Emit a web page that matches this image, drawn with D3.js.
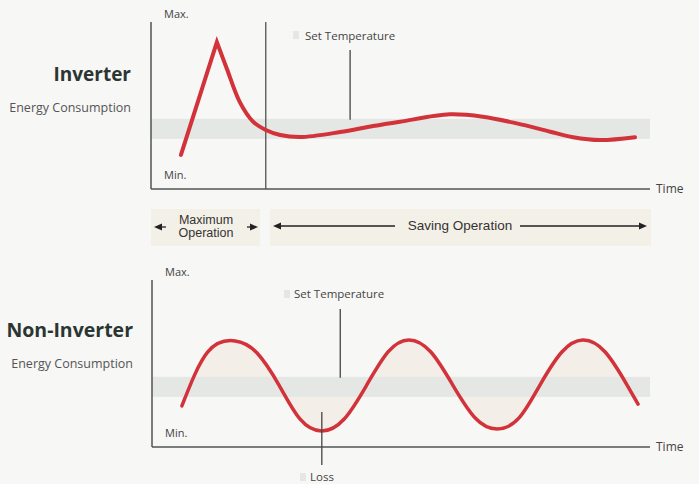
<!DOCTYPE html>
<html>
<head>
<meta charset="utf-8">
<script src="https://cdn.jsdelivr.net/npm/d3@7"></script>
<style>
  body { margin: 0; background: #f7f7f5; }
  svg { display: block; }
</style>
</head>
<body>
<div id="chart"></div>
<script>
// time (0-100) vs energy (0 = Min., 100 = Max.)
const inverterTime   = [6.0, 13.2, 15.2, 17.8, 20.4, 23.0, 25.9, 29.9, 37.9, 44.5, 49.9, 59.9, 66.5, 73.3, 80.0, 84.6, 90.0, 97.0];
const inverterEnergy = [20.4, 88.0, 72.0, 52.0, 40.5, 35.3, 32.3, 31.1, 34.1, 37.7, 40.3, 44.7, 43.3, 39.3, 34.3, 31.0, 29.3, 31.0];

const nonInvTime   = [6.0, 11.2, 16.7, 21.1, 25.5, 29.7, 34.1, 38.6, 43.0, 47.4, 51.6, 56.0, 60.4, 64.9, 69.3, 73.7, 77.9, 82.3, 86.5, 91.0, 95.4, 97.6];
const nonInvEnergy = [24.6, 56.9, 63.5, 56.3, 37.1, 16.8, 9.6, 16.8, 36.5, 56.9, 64.1, 56.9, 37.1, 17.4, 10.8, 17.4, 37.1, 56.9, 64.1, 56.9, 37.1, 25.7];

const setTempBand = [30, 42];       // energy range of set temperature band
const setTempMid = 36;
const maxOpEnd = 23.0;              // end of maximum operation phase (time)
const topSetTempMark = 39.9;        // time where the label line points
const bottomSetTempMark = 37.8;
const lossMark = 34.1;

const W = 699, H = 484;
const svg = d3.select("#chart").append("svg")
    .attr("width", W).attr("height", H);

svg.append("rect").attr("width", W).attr("height", H).attr("fill", "#f7f7f5");

const red = "#d2323a";
const axisCol = "#505552";
const bandCol = "#e4e7e4";
const font = "'Open Sans', 'Noto Sans', sans-serif";

function panel(opts) {
    const x = d3.scaleLinear().domain([0, 100]).range([opts.left, 650]);
    const y = d3.scaleLinear().domain([0, 100]).range([opts.bottom, opts.top]);
    const g = svg.append("g");

    // set temperature band
    g.append("rect")
        .attr("class", "band")
        .attr("x", x(0)).attr("width", x(100) - x(0))
        .attr("y", y(setTempBand[1])).attr("height", y(setTempBand[0]) - y(setTempBand[1]))
        .attr("fill", bandCol);

    // axes
    g.append("line")
        .attr("x1", x(0)).attr("x2", x(0))
        .attr("y1", opts.top).attr("y2", opts.bottom)
        .attr("stroke", axisCol).attr("stroke-width", 1.5);
    g.append("line")
        .attr("x1", x(0)).attr("x2", x(100))
        .attr("y1", opts.bottom).attr("y2", opts.bottom)
        .attr("stroke", axisCol).attr("stroke-width", 1.5);

    g.append("text").attr("x", x(0) + 13).attr("y", opts.top - 4)
        .text("Max.").attr("font-family", font).attr("font-size", 11).attr("fill", "#444");
    g.append("text").attr("x", x(0) + 13).attr("y", opts.bottom - 10)
        .text("Min.").attr("font-family", font).attr("font-size", 11).attr("fill", "#444");
    g.append("text").attr("x", x(100) + 6).attr("y", opts.bottom + 4)
        .text("Time").attr("font-family", font).attr("font-size", 12).attr("fill", "#444");

    // titles on the left
    g.append("text").attr("x", opts.titleX).attr("y", opts.titleY)
        .attr("text-anchor", "end").text(opts.title)
        .attr("font-family", font).attr("font-size", opts.titleSize).attr("font-weight", "bold")
        .attr("fill", "#2b3531");
    g.append("text").attr("x", opts.titleX).attr("y", opts.titleY + 31)
        .attr("text-anchor", "end").text("Energy Consumption")
        .attr("font-family", font).attr("font-size", 12.5).attr("fill", "#555");

    return { x, y, g };
}

// ---------- Inverter ----------
const topP = panel({ left: 151, top: 22, bottom: 189, title: "Inverter", titleX: 131, titleY: 81, titleSize: 19 });

topP.g.append("line")
    .attr("x1", topP.x(maxOpEnd)).attr("x2", topP.x(maxOpEnd))
    .attr("y1", 22).attr("y2", 189)
    .attr("stroke", axisCol).attr("stroke-width", 1.3);

const invPts = inverterTime.map((t, i) => [topP.x(t), topP.y(inverterEnergy[i])]);
const rise = d3.line().curve(d3.curveLinear)(invPts.slice(0, 2));
const decay = d3.line().curve(d3.curveCatmullRom.alpha(0.5))(invPts.slice(1));
topP.g.append("path")
    .attr("d", rise + decay.replace(/^M/, "L"))
    .attr("fill", "none").attr("stroke", red).attr("stroke-width", 4)
    .attr("stroke-linejoin", "miter").attr("stroke-linecap", "round");

// set temperature label
topP.g.append("rect").attr("x", 293).attr("y", 31).attr("width", 6).attr("height", 8).attr("fill", bandCol);
topP.g.append("text").attr("x", 305).attr("y", 40).text("Set Temperature")
    .attr("font-family", font).attr("font-size", 11.5).attr("fill", "#444");
topP.g.append("line")
    .attr("x1", topP.x(topSetTempMark)).attr("x2", topP.x(topSetTempMark))
    .attr("y1", 50).attr("y2", topP.y(setTempBand[1]) + 1)
    .attr("stroke", "#444").attr("stroke-width", 1.3);

// ---------- operation phases ----------
const opFont = "'Liberation Sans', Arial, sans-serif";
const ph = svg.append("g");
ph.append("rect").attr("x", 151).attr("y", 209).attr("width", 109).attr("height", 37).attr("fill", "#f3f0e7");
ph.append("rect").attr("x", 270).attr("y", 209).attr("width", 381).attr("height", 37).attr("fill", "#f3f0e7");

function arrow(x1, x2, y) {
    const dir = Math.sign(x2 - x1);
    ph.append("line").attr("x1", x1).attr("x2", x2 - dir * 6).attr("y1", y).attr("y2", y)
        .attr("stroke", "#222").attr("stroke-width", 1.3);
    ph.append("path")
        .attr("d", `M${x2},${y} L${x2 - dir * 8},${y - 3.5} L${x2 - dir * 8},${y + 3.5} Z`)
        .attr("fill", "#222");
}
arrow(166, 154, 227);
arrow(247, 258, 227);
arrow(395, 273, 226);
arrow(520, 647, 226);

ph.append("text").attr("x", 206).attr("y", 224).attr("text-anchor", "middle")
    .text("Maximum").attr("font-family", opFont).attr("font-size", 12.5).attr("fill", "#333");
ph.append("text").attr("x", 206).attr("y", 237).attr("text-anchor", "middle")
    .text("Operation").attr("font-family", opFont).attr("font-size", 12.5).attr("fill", "#333");
ph.append("text").attr("x", 460).attr("y", 230).attr("text-anchor", "middle")
    .text("Saving Operation").attr("font-family", opFont).attr("font-size", 13.5).attr("fill", "#333");

// ---------- Non-Inverter ----------
const botP = panel({ left: 152, top: 280, bottom: 447, title: "Non-Inverter", titleX: 133, titleY: 337, titleSize: 19.5 });

const nonPts = nonInvTime.map((t, i) => ({ t, e: nonInvEnergy[i] }));

// light shading between curve and set temperature, under the band
botP.g.insert("path", ".band")
    .datum(nonPts)
    .attr("d", d3.area().curve(d3.curveNatural)
        .x(d => botP.x(d.t)).y0(botP.y(setTempMid)).y1(d => botP.y(d.e)))
    .attr("fill", "#f3eee7");

botP.g.append("path")
    .datum(nonPts)
    .attr("d", d3.line().curve(d3.curveNatural).x(d => botP.x(d.t)).y(d => botP.y(d.e)))
    .attr("fill", "none").attr("stroke", red).attr("stroke-width", 3.5)
    .attr("stroke-linecap", "round");

botP.g.append("rect").attr("x", 284).attr("y", 290).attr("width", 6).attr("height", 8).attr("fill", bandCol);
botP.g.append("text").attr("x", 294).attr("y", 298).text("Set Temperature")
    .attr("font-family", font).attr("font-size", 11.5).attr("fill", "#444");
botP.g.append("line")
    .attr("x1", botP.x(bottomSetTempMark)).attr("x2", botP.x(bottomSetTempMark))
    .attr("y1", 309).attr("y2", botP.y(setTempBand[1]) + 1)
    .attr("stroke", "#444").attr("stroke-width", 1.3);

botP.g.append("line")
    .attr("x1", botP.x(lossMark)).attr("x2", botP.x(lossMark))
    .attr("y1", 412).attr("y2", 465)
    .attr("stroke", "#444").attr("stroke-width", 1.3);
botP.g.append("rect").attr("x", 300).attr("y", 473).attr("width", 6).attr("height", 8).attr("fill", bandCol);
botP.g.append("text").attr("x", 310).attr("y", 481).text("Loss")
    .attr("font-family", font).attr("font-size", 11.5).attr("fill", "#444");
</script>
</body>
</html>
